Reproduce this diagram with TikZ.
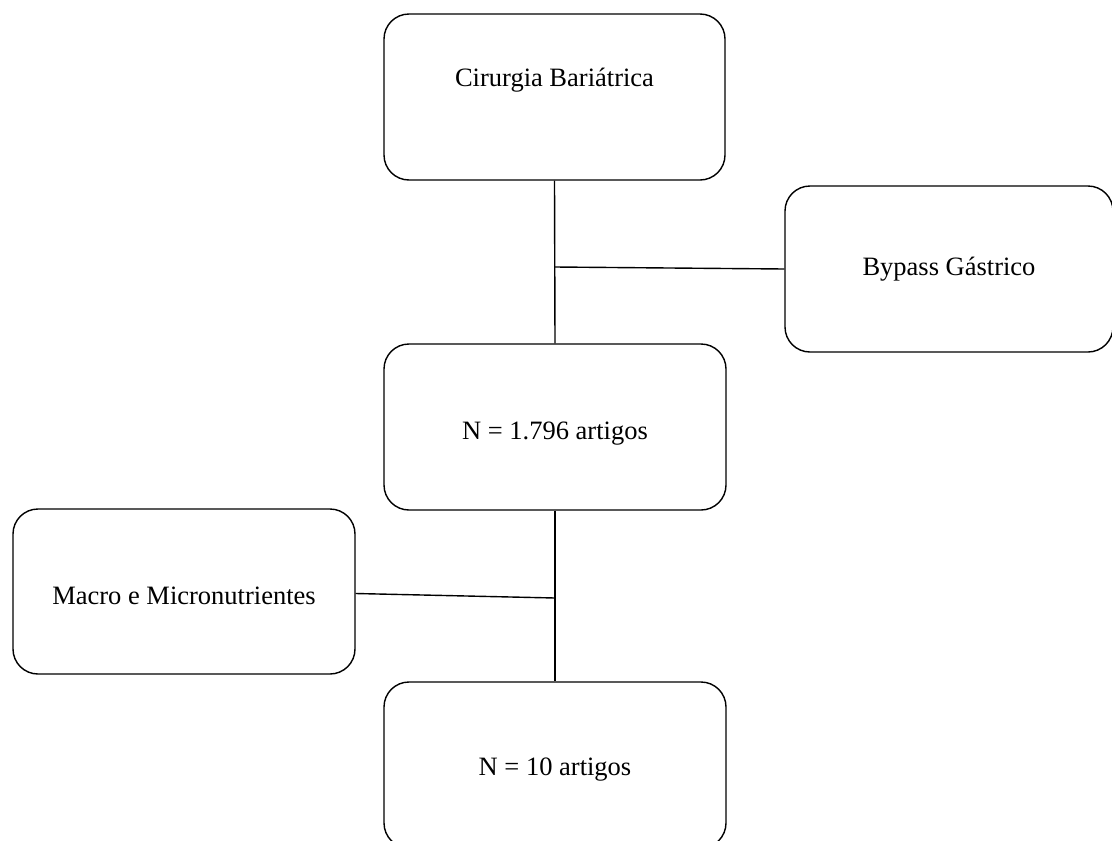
\documentclass[tikz,border=0pt]{standalone}
\usepackage{fontspec}
\setmainfont{Liberation Serif}
\begin{document}
\begin{tikzpicture}[x=1pt,y=-1pt,
  box/.style={draw=black,line width=1.4pt,rounded corners=25pt,minimum width=#1,inner sep=0pt},
  txt/.style={font=\fontsize{26.5}{30}\selectfont},
  conn/.style={draw=black,line width=1.4pt}]
\useasboundingbox (0,0) rectangle (1112,841);
\node[box=341pt,minimum height=166pt,label={[txt,yshift=17pt]center:Cirurgia Bariátrica}] (b1) at (554.5,97) {};
\node[box=328pt,minimum height=166pt,label={[txt]center:Bypass Gástrico}] (b2) at (949,269) {};
\node[box=342pt,minimum height=166pt,label={[txt,yshift=-7pt]center:N = 1.796 artigos}] (b3) at (555,427) {};
\node[box=342pt,minimum height=165pt,label={[txt,yshift=-4pt]center:Macro e Micronutrientes}] (b4) at (184,591.5) {};
\node[box=342pt,minimum height=166pt,label={[txt,yshift=-5pt]center:N = 10 artigos}] (b5) at (555,765) {};
\coordinate (j1) at (555,267);
\coordinate (j2) at (555,598);
\draw[conn] (b1.south) -- (b3.north);
\draw[conn] (j1) -- (b2.west);
\draw[conn] (b3.south) -- (b5.north);
\draw[conn] ([yshift=-2pt]b4.east) -- (j2);
\end{tikzpicture}
\end{document}
